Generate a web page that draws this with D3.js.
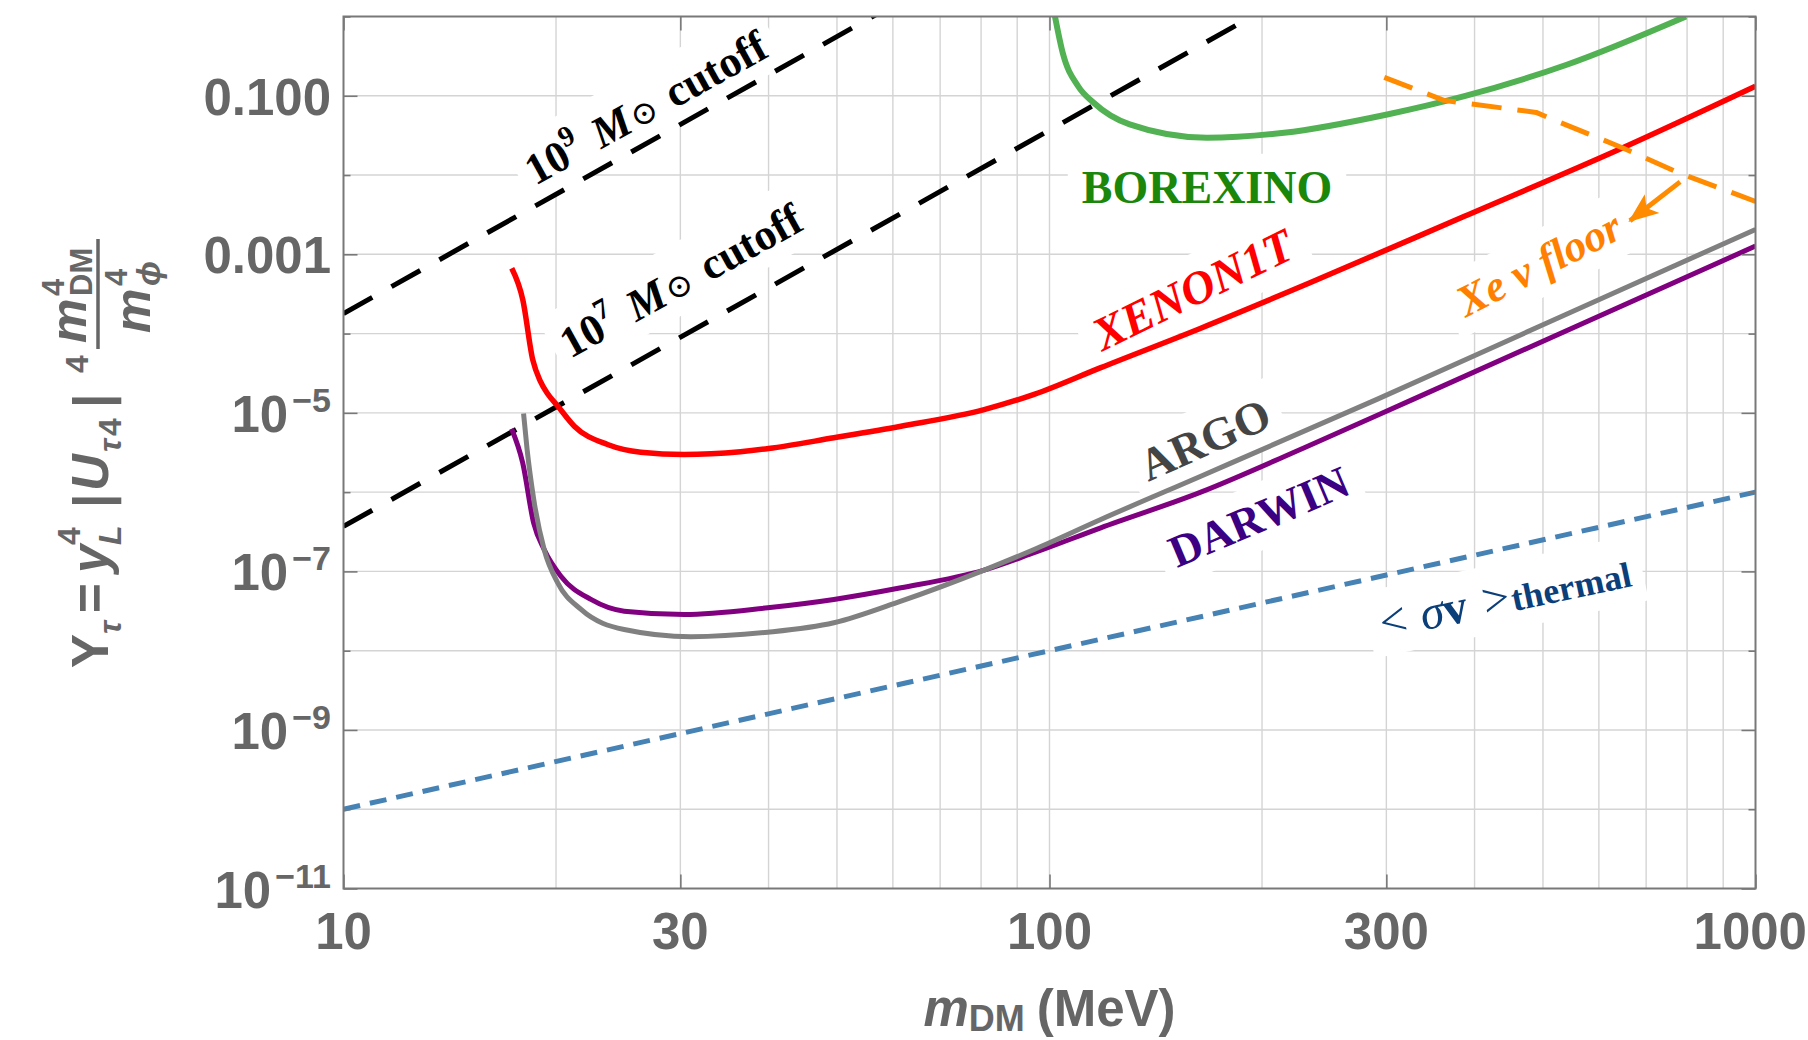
<!DOCTYPE html>
<html>
<head>
<meta charset="utf-8">
<script src="https://cdn.jsdelivr.net/npm/d3@7"></script>
<style>
  body { margin: 0; background: #ffffff; }
  svg { display: block; }
</style>
</head>
<body>
<svg id="chart" width="1808" height="1040"></svg>
<script>
// ---------------- DATA ----------------
// axis ticks
const massTicks = [10, 30, 100, 300, 1000];
const massTickLabels = ["10", "30", "100", "300", "1000"];
const gridMass = [20, 30, 40, 50, 60, 70, 80, 90, 100, 200, 300, 400, 500, 600, 700, 800, 900];
const yMajorTicks = [1e-1, 1e-3, 1e-5, 1e-7, 1e-9, 1e-11];
const yMajorBase = ["0.100", "0.001", "10", "10", "10", "10"];
const yMajorExp = ["", "", "\u22125", "\u22127", "\u22129", "\u221211"];
const yMinorTicks = [1, 1e-2, 1e-4, 1e-6, 1e-8, 1e-10];
const gridY = [1e-1, 1e-2, 1e-3, 1e-4, 1e-5, 1e-6, 1e-7, 1e-8, 1e-9, 1e-10];

// XENON1T
const xenonM = [17.31, 17.95, 18.54, 19.0, 19.46, 20.11, 21.23, 23.66, 26.37, 30.38, 36.5, 40, 49.5, 61.6, 80.8, 95.1, 118.2, 163.8, 233.8, 387, 640.6, 1000];
const xenonY = [6.67e-4, 2.65e-4, 4.65e-5, 2.51e-5, 1.74e-5, 1.22e-5, 6.79e-6, 3.99e-6, 3.19e-6, 2.99e-6, 3.24e-6, 3.55e-6, 4.85e-6, 6.79e-6, 1.10e-5, 1.71e-5, 3.72e-5, 1.17e-4, 4.37e-4, 3.02e-3, 2.10e-2, 0.132];

// ARGO
const argoM = [17.99, 18.2, 18.6, 19.24, 20.11, 21.7, 24.98, 31.05, 39.9, 49.5, 61.6, 80.8, 95.1, 118.2, 163.8, 290.9, 500, 1000];
const argoY = [9.82e-6, 3.45e-6, 8.07e-7, 1.89e-7, 7.18e-8, 3.31e-8, 1.85e-8, 1.50e-8, 1.71e-8, 2.25e-8, 4.22e-8, 1.04e-7, 1.89e-7, 4.52e-7, 1.59e-6, 1.48e-5, 1.29e-4, 2.06e-3];

// DARWIN
const darwinM = [17.3, 17.94, 18.59, 19.24, 20.32, 22.41, 24.98, 30.38, 39.9, 49.5, 61.6, 80.8, 95.1, 118.2, 163.8, 230, 327.2, 1000];
const darwinY = [6.30e-6, 2.34e-6, 4.10e-7, 1.89e-7, 8.71e-8, 4.43e-8, 3.15e-8, 2.86e-8, 3.48e-8, 4.43e-8, 6.21e-8, 1.04e-7, 1.72e-7, 3.55e-7, 1.0e-6, 3.66e-6, 1.48e-5, 1.27e-3];

// BOREXINO
const borexM = [101.8, 104.4, 109.8, 115.5, 129.9, 167.1, 214.9, 300.8, 387, 541.5, 797];
const borexY = [1.0, 0.348, 0.132, 0.0817, 0.0435, 0.0295, 0.0341, 0.0581, 0.0989, 0.248, 1.0];

// Xe neutrino floor
const floorM = [298, 362, 489, 520, 650, 782, 1000];
const floorY = [0.171, 0.0875, 0.0617, 0.0490, 0.0218, 0.0105, 0.00465];

// arrow pointing to the floor
const arrowM = [782, 664];
const arrowY = [8.2e-3, 2.65e-3];

// cutoff lines (end points)
const cut9M = [10, 60];
const cut9Y = [1.79e-4, 1.39];
const cut7M = [10, 200];
const cut7Y = [3.7e-7, 1.18];

// thermal relic line (end points)
const thermalM = [10, 1000];
const thermalY = [1e-10, 1e-6];

// ---------------- LAYOUT ----------------
const L = 343.5, R = 1755.5, T = 16.5, B = 888.5;
const SANS = "'Liberation Sans', Arial, sans-serif";
const SERIF = "'Liberation Serif', 'Times New Roman', 'DejaVu Serif', serif";
const AXIS_GRAY = "#666666";

const x = d3.scaleLog().domain([10, 1000]).range([L, R]);
const y = d3.scaleLog().domain([1e-11, 1]).range([B, T]);

const svg = d3.select("#chart");
svg.append("rect").attr("width", 1808).attr("height", 1040).attr("fill", "#fff");

const defs = svg.append("defs");
defs.append("clipPath").attr("id", "plotclip")
  .append("rect").attr("x", L).attr("y", T).attr("width", R - L).attr("height", B - T);

// grid
const gGrid = svg.append("g");
gGrid.selectAll("line.v").data(gridMass).join("line")
  .attr("x1", d => x(d)).attr("x2", d => x(d)).attr("y1", T).attr("y2", B)
  .attr("stroke", "#d4d4d4").attr("stroke-width", 1.4);
gGrid.selectAll("line.h").data(gridY).join("line")
  .attr("x1", L).attr("x2", R).attr("y1", d => y(d)).attr("y2", d => y(d))
  .attr("stroke", "#d4d4d4").attr("stroke-width", 1.4);

// label background layer (under curves)
const gBg = svg.append("g");
// curves layer
const gCurves = svg.append("g").attr("clip-path", "url(#plotclip)");
// label text layer
const gLabels = svg.append("g");

const zip = (a, b) => a.map((v, i) => [v, b[i]]);
const lineSmooth = d3.line().x(d => x(d[0])).y(d => y(d[1])).curve(d3.curveMonotoneX);
const lineStraight = d3.line().x(d => x(d[0])).y(d => y(d[1]));

function drawCurve(data, gen, color, width, dash) {
  const p = gCurves.append("path").attr("d", gen(data))
    .attr("fill", "none").attr("stroke", color).attr("stroke-width", width)
    .attr("stroke-linejoin", "round");
  if (dash) p.attr("stroke-dasharray", dash);
  return p;
}

drawCurve(zip(cut9M, cut9Y), lineStraight, "#000", 5, "33,22");
drawCurve(zip(cut7M, cut7Y), lineStraight, "#000", 5, "33,22");
drawCurve(zip(thermalM, thermalY), lineStraight, "#4682b4", 5, "17,10");
drawCurve(zip(borexM, borexY), lineSmooth, "#52b152", 6);
drawCurve(zip(xenonM, xenonY), lineSmooth, "#ff0000", 5.5);
drawCurve(zip(floorM, floorY), lineStraight, "#ff8c00", 5, "30,16");
drawCurve(zip(darwinM, darwinY), lineSmooth, "#800080", 5);
drawCurve(zip(argoM, argoY), lineSmooth, "#808080", 5);

// arrow
defs.append("marker").attr("id", "ahead").attr("markerUnits", "userSpaceOnUse")
  .attr("markerWidth", 32).attr("markerHeight", 26).attr("refX", 28).attr("refY", 13)
  .attr("orient", "auto")
  .append("path").attr("d", "M0,1 L30,13 L0,25 L7,13 Z").attr("fill", "#ff8c00");
gCurves.append("path").attr("d", lineStraight(zip(arrowM, arrowY)))
  .attr("stroke", "#ff8c00").attr("stroke-width", 5).attr("fill", "none")
  .attr("marker-end", "url(#ahead)");

// frame
svg.append("rect").attr("x", L).attr("y", T).attr("width", R - L).attr("height", B - T)
  .attr("fill", "none").attr("stroke", "#787878").attr("stroke-width", 2);

// ticks via d3 axes (inward)
function styleAxis(g) {
  g.select(".domain").remove();
  g.selectAll(".tick line").attr("stroke", "#787878").attr("stroke-width", 1.6);
  g.selectAll(".tick text").remove();
}
svg.append("g").attr("transform", `translate(0,${B})`)
  .call(d3.axisBottom(x).tickValues(massTicks).tickSize(-14).tickFormat("")).call(styleAxis);
svg.append("g").attr("transform", `translate(0,${T})`)
  .call(d3.axisTop(x).tickValues(massTicks).tickSize(-14).tickFormat("")).call(styleAxis);
svg.append("g").attr("transform", `translate(${L},0)`)
  .call(d3.axisLeft(y).tickValues(yMajorTicks).tickSize(-14).tickFormat("")).call(styleAxis);
svg.append("g").attr("transform", `translate(${L},0)`)
  .call(d3.axisLeft(y).tickValues(yMinorTicks).tickSize(-7).tickFormat("")).call(styleAxis);
svg.append("g").attr("transform", `translate(${R},0)`)
  .call(d3.axisRight(y).tickValues(yMajorTicks).tickSize(-14).tickFormat("")).call(styleAxis);
svg.append("g").attr("transform", `translate(${R},0)`)
  .call(d3.axisRight(y).tickValues(yMinorTicks).tickSize(-7).tickFormat("")).call(styleAxis);

// tick labels
const xl = svg.append("g").attr("font-family", SANS).attr("font-weight", "bold")
  .attr("font-size", 51).attr("fill", AXIS_GRAY);
xl.selectAll("text").data(massTicks).join("text")
  .attr("x", (d, i) => i === massTicks.length - 1 ? 1807 : x(d))
  .attr("text-anchor", (d, i) => i === massTicks.length - 1 ? "end" : "middle")
  .attr("y", B + 60).text((d, i) => massTickLabels[i]);

const yl = svg.append("g").attr("font-family", SANS).attr("font-weight", "bold")
  .attr("fill", AXIS_GRAY).attr("text-anchor", "end");
yMajorTicks.forEach((v, i) => {
  const t = yl.append("text").attr("x", 331).attr("y", y(v) + 19).attr("font-size", 51);
  t.append("tspan").text(yMajorBase[i]);
  if (yMajorExp[i]) {
    t.append("tspan").attr("font-size", 34).attr("dy", -20).attr("dx", 4).text(yMajorExp[i]);
  }
});

// x-axis title
const xt = svg.append("text").attr("x", (L + R) / 2).attr("y", 1026)
  .attr("text-anchor", "middle").attr("font-family", SANS).attr("font-weight", "bold")
  .attr("font-size", 51).attr("fill", AXIS_GRAY);
xt.append("tspan").attr("font-style", "italic").text("m");
xt.append("tspan").attr("font-size", 36).attr("dy", 5).text("DM");
xt.append("tspan").attr("dy", -5).attr("dx", 12).text("(MeV)");

// y-axis title (rotated)
const yt = svg.append("g").attr("transform", "translate(0,453) rotate(-90)")
  .attr("font-family", SANS).attr("font-weight", "bold").attr("fill", AXIS_GRAY);
const yPieces = [
  {t: "Y", x: -215, y: 108, s: 51},
  {t: "\u03c4", x: -181, y: 121, s: 32, i: true},
  {t: "=", x: -160, y: 108, s: 51},
  {t: "y", x: -120, y: 108, s: 51, i: true},
  {t: "4", x: -92, y: 80, s: 32},
  {t: "L", x: -92, y: 121, s: 32, i: true},
  {t: "|", x: -55, y: 110, s: 51},
  {t: "U", x: -38, y: 108, s: 51, i: true},
  {t: "\u03c4", x: 1, y: 121, s: 32, i: true},
  {t: "4", x: 17, y: 121, s: 32},
  {t: "|", x: 45, y: 110, s: 51},
  {t: "4", x: 80, y: 88, s: 32},
  {t: "m", x: 110, y: 86, s: 50, i: true},
  {t: "4", x: 157, y: 64, s: 31},
  {t: "DM", x: 157, y: 92, s: 31},
  {t: "m", x: 120, y: 150, s: 50, i: true},
  {t: "4", x: 167, y: 127, s: 31},
  {t: "\u03d5", x: 167, y: 160, s: 33, i: true}
];
yPieces.forEach(p => {
  yt.append("text").attr("x", p.x).attr("y", p.y).attr("font-size", p.s)
    .attr("font-style", p.i ? "italic" : "normal").text(p.t);
});
yt.append("line").attr("x1", 104).attr("x2", 214).attr("y1", 98).attr("y2", 98)
  .attr("stroke", AXIS_GRAY).attr("stroke-width", 3.5);

// ---------------- curve labels ----------------
function addLabel(cx, cy, angle, size, color, parts, pad) {
  const tr = `translate(${cx},${cy}) rotate(${angle})`;
  const g = gLabels.append("g").attr("transform", tr);
  const t = g.append("text").attr("text-anchor", "middle").attr("y", size * 0.33)
    .attr("font-family", SERIF).attr("font-weight", "bold").attr("font-size", size)
    .attr("fill", color);
  parts.forEach(p => {
    const s = t.append("tspan").text(p.t);
    if (p.size) s.attr("font-size", p.size);
    if (p.style) s.attr("font-style", p.style);
    if (p.weight) s.attr("font-weight", p.weight);
    if (p.dy) s.attr("dy", p.dy);
    if (p.dx) s.attr("dx", p.dx);
    if (p.family) s.attr("font-family", p.family);
  });
  const bb = t.node().getBBox();
  gBg.append("rect").attr("transform", tr)
    .attr("x", bb.x - pad).attr("y", bb.y - pad * 0.6)
    .attr("width", bb.width + 2 * pad).attr("height", bb.height + 1.2 * pad)
    .attr("fill", "#fff");
}

const cutParts = (e) => [
  {t: "10"},
  {t: e, size: 29, dy: -19},
  {t: "M", style: "italic", dy: 19, dx: 17},
  {t: "\u2299", weight: "normal", size: 33, family: "'DejaVu Serif', serif", dx: 2},
  {t: "cutoff", dx: 15}
];
addLabel(646, 108, -29, 44, "#000", cutParts("9"), 10);
addLabel(681, 281, -29, 44, "#000", cutParts("7"), 10);
addLabel(1207, 188, 0, 46, "#1a870a", [{t: "BOREXINO"}], 14);
addLabel(1193, 290, -26, 47, "#ff0000", [{t: "XENON1T", style: "italic"}], 12);
addLabel(1539, 264, -27, 44, "#ff8000", [{t: "Xe \u03bd floor", style: "italic"}], 12);
addLabel(1205, 440, -24, 46, "#444444", [{t: "ARGO"}], 12);
addLabel(1259, 517, -23, 45, "#3c0082", [{t: "DARWIN"}], 12);
addLabel(1505, 597, -12, 48, "#0b3f7a", [
  {t: "<", weight: "normal"},
  {t: "\u03c3", style: "italic", weight: "normal", dx: 14},
  {t: "v", weight: "bold"},
  {t: ">", weight: "normal", dx: 16},
  {t: "thermal", size: 36, weight: "bold", dx: 2}
], 12);
</script>
</body>
</html>
